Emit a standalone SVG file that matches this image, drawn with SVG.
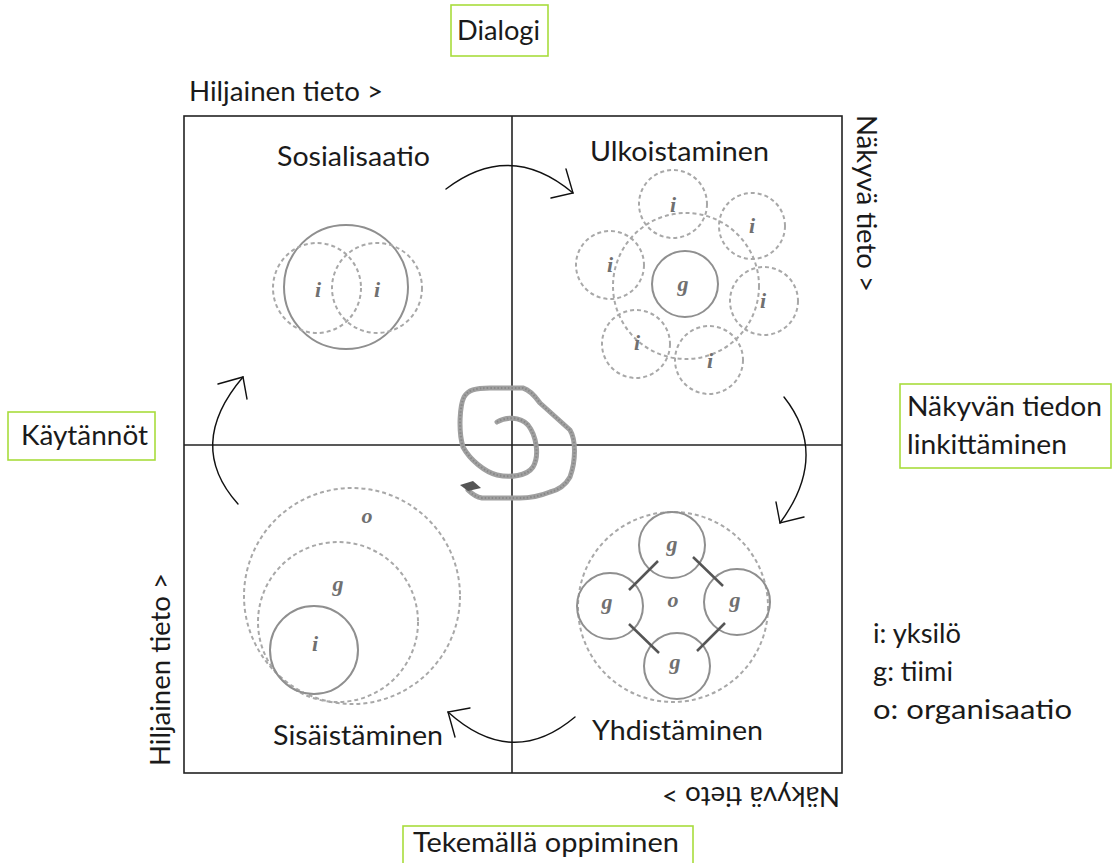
<svg xmlns="http://www.w3.org/2000/svg" width="1113" height="863" viewBox="0 0 1113 863">
<style>
.t{font-family:Lato,"Open Sans","Liberation Sans",sans-serif;font-size:27px;fill:#1a1a1a}
.box{fill:none;stroke:#a8dc3c;stroke-width:1.6}
.ax{fill:none;stroke:#222;stroke-width:1.6}
.sol{fill:none;stroke:#8f8f8f;stroke-width:2}
.dash{fill:none;stroke:#a8a8a8;stroke-width:2;stroke-dasharray:4 3}
.lab{font-family:"Liberation Serif","DejaVu Serif",serif;font-style:italic;font-weight:bold;font-size:22px;fill:#707070;text-anchor:middle}
.arr{fill:none;stroke:#111;stroke-width:1.4;stroke-linecap:round}
.link{stroke:#555;stroke-width:2.5}
</style>
<rect width="1113" height="863" fill="#fff"/>

<g id="axes">
<rect class="ax" x="184" y="116" width="658" height="657"/>
<line class="ax" x1="512" y1="116" x2="512" y2="773"/>
<line class="ax" x1="184" y1="445" x2="842" y2="445"/>
</g>

<g id="label-dialogi">
<rect class="box" x="451" y="5" width="97" height="51"/>
<text class="t" x="457" y="40" textLength="83" lengthAdjust="spacingAndGlyphs">Dialogi</text>
</g>
<g id="label-hiljainen-top"><text class="t" x="189" y="101" textLength="194" lengthAdjust="spacingAndGlyphs">Hiljainen tieto &gt;</text></g>
<g id="label-nakyva-right"><text class="t" transform="translate(857,115) rotate(90)" x="0" y="0" textLength="177" lengthAdjust="spacingAndGlyphs">Näkyvä tieto &gt;</text></g>
<g id="label-hiljainen-left"><text class="t" transform="translate(170,766) rotate(-90)" x="0" y="0" textLength="193" lengthAdjust="spacingAndGlyphs">Hiljainen tieto &gt;</text></g>
<g id="label-nakyva-bottom"><text class="t" transform="translate(840,787) rotate(180)" x="0" y="0" textLength="178" lengthAdjust="spacingAndGlyphs">Näkyvä tieto &gt;</text></g>
<g id="label-linkittaminen">
<rect class="box" x="900" y="384" width="211" height="84"/>
<text class="t" x="907" y="416" textLength="195" lengthAdjust="spacingAndGlyphs">Näkyvän tiedon</text>
<text class="t" x="907" y="454" textLength="160" lengthAdjust="spacingAndGlyphs">linkittäminen</text>
</g>
<g id="label-kaytannot">
<rect class="box" x="8" y="412" width="147" height="48"/>
<text class="t" x="21" y="445" textLength="127" lengthAdjust="spacingAndGlyphs">Käytännöt</text>
</g>
<g id="label-tekemalla">
<rect class="box" x="403" y="826" width="290" height="45"/>
<text class="t" x="413" y="852" textLength="266" lengthAdjust="spacingAndGlyphs">Tekemällä oppiminen</text>
</g>
<g id="legend">
<text class="t" x="873" y="643" textLength="88" lengthAdjust="spacingAndGlyphs">i: yksilö</text>
<text class="t" x="873" y="681" textLength="80" lengthAdjust="spacingAndGlyphs">g: tiimi</text>
<text class="t" x="873" y="719" textLength="199" lengthAdjust="spacingAndGlyphs">o: organisaatio</text>
</g>

<g id="sosialisaatio">
<text class="t" x="277" y="166" textLength="153" lengthAdjust="spacingAndGlyphs">Sosialisaatio</text>
<circle class="sol" cx="346" cy="287" r="62"/>
<ellipse class="dash" cx="317" cy="288" rx="44" ry="45"/>
<ellipse class="dash" cx="377" cy="288" rx="45" ry="45"/>
<text class="lab" x="318" y="297">i</text>
<text class="lab" x="377" y="297">i</text>
</g>

<g id="ulkoistaminen">
<text class="t" x="590" y="161" textLength="179" lengthAdjust="spacingAndGlyphs">Ulkoistaminen</text>
<circle class="dash" cx="686" cy="286" r="73"/>
<circle class="dash" cx="673" cy="204" r="34"/>
<circle class="dash" cx="752" cy="226" r="33"/>
<circle class="dash" cx="610" cy="265" r="34"/>
<circle class="dash" cx="764" cy="301" r="34"/>
<circle class="dash" cx="636" cy="344" r="34"/>
<circle class="dash" cx="709" cy="360" r="34"/>
<circle class="sol" cx="685" cy="284" r="33"/>
<text class="lab" x="673" y="212">i</text>
<text class="lab" x="752" y="233">i</text>
<text class="lab" x="610" y="272">i</text>
<text class="lab" x="763" y="308">i</text>
<text class="lab" x="637" y="350">i</text>
<text class="lab" x="710" y="368">i</text>
<text class="lab" x="683" y="291">g</text>
</g>

<g id="sisaistaminen">
<text class="t" x="273" y="745" textLength="170" lengthAdjust="spacingAndGlyphs">Sisäistäminen</text>
<circle class="dash" cx="352" cy="596" r="108"/>
<circle class="dash" cx="338" cy="622" r="80"/>
<circle class="sol" cx="314" cy="650" r="44"/>
<text class="lab" x="367" y="523">o</text>
<text class="lab" x="338" y="591">g</text>
<text class="lab" x="315" y="651">i</text>
</g>

<g id="yhdistaminen">
<text class="t" x="592" y="740" textLength="171" lengthAdjust="spacingAndGlyphs">Yhdistäminen</text>
<circle class="dash" cx="673" cy="607" r="95"/>
<circle class="sol" cx="672" cy="545" r="33"/>
<circle class="sol" cx="610" cy="606" r="33"/>
<circle class="sol" cx="737" cy="602" r="33"/>
<circle class="sol" cx="677" cy="666" r="33"/>
<line class="link" x1="658" y1="561" x2="629" y2="590"/>
<line class="link" x1="693" y1="557" x2="723" y2="586"/>
<line class="link" x1="629" y1="624" x2="659" y2="653"/>
<line class="link" x1="725" y1="623" x2="697" y2="651"/>
<text class="lab" x="672" y="551">g</text>
<text class="lab" x="607" y="609">g</text>
<text class="lab" x="735" y="607">g</text>
<text class="lab" x="675" y="669">g</text>
<text class="lab" x="673" y="607">o</text>
</g>

<g id="spiral">
<path d="M497,422 C505,417 520,416 528,425 C536,435 540,455 533,467 C527,476 510,478 497,475 C485,472 470,460 463,447 C458,430 460,405 464,397 C468,390 475,388 490,388 L523,388 C530,390 535,396 540,403 L570,430 C576,440 576,460 570,477 C565,486 558,490 550,492 C540,496 530,498 520,498 L482,498 C476,497 472,494 468,490" fill="none" stroke="#a0a0a0" stroke-width="5" stroke-linecap="round" stroke-linejoin="round"/>
<path d="M497,422 C505,417 520,416 528,425 C536,435 540,455 533,467 C527,476 510,478 497,475 C485,472 470,460 463,447 C458,430 460,405 464,397 C468,390 475,388 490,388 L523,388 C530,390 535,396 540,403 L570,430 C576,440 576,460 570,477 C565,486 558,490 550,492 C540,496 530,498 520,498 L482,498 C476,497 472,494 468,490" fill="none" stroke="#888" stroke-width="2" stroke-dasharray="1.5 2"/>
<polygon points="460,485 473,481 481,488 468,491" fill="#555"/>
</g>

<g id="connectors">
<path class="arr" d="M446,189 Q510,140 573,193"/>
<path class="arr" d="M566,169 L573,193 L551,198"/>
<path class="arr" d="M784,397 Q830,455 780,523"/>
<path class="arr" d="M776,502 L780,523 L804,517"/>
<path class="arr" d="M575,717 Q512,770 448,712"/>
<path class="arr" d="M470,708 L448,712 L455,737"/>
<path class="arr" d="M238,504 Q185,445 243,377"/>
<path class="arr" d="M218,384 L243,377 L247,399"/>
</g>
</svg>
